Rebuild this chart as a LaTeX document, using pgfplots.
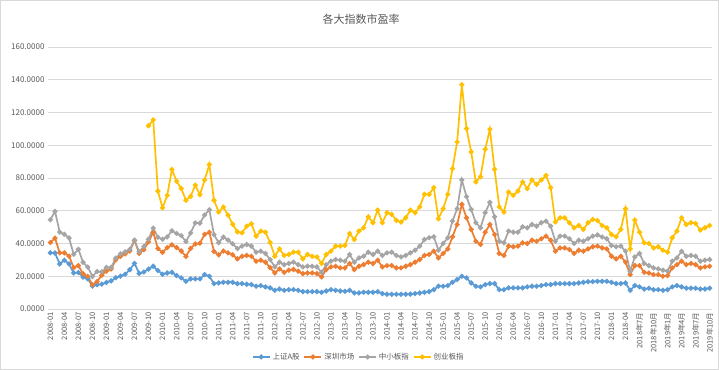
\documentclass[border=0pt]{standalone}
\usepackage{pgfplots}
\usepackage{pgfplotstable}
\pgfplotsset{compat=1.18}
\usepackage{fontspec}
\setmainfont{Noto Sans CJK SC}
\definecolor{cblue}{HTML}{5B9BD5}
\definecolor{corange}{HTML}{ED7D31}
\definecolor{cgray}{HTML}{A5A5A5}
\definecolor{cgold}{HTML}{FFC000}
\definecolor{ctext}{HTML}{595959}
\definecolor{cgrid}{HTML}{D9D9D9}
\pgfplotstableread{
i sh sz zx cy
0 34.3 40.6 54.5 nan
1 34.2 43.3 59.6 nan
2 27.5 34.3 47.0 nan
3 29.8 34.3 45.6 nan
4 27.5 32.3 43.4 nan
5 22.0 25.3 33.4 nan
6 22.3 26.5 36.4 nan
7 19.5 21.5 28.5 nan
8 18.5 19.9 25.6 nan
9 14.0 14.8 19.9 nan
10 14.8 16.8 22.9 nan
11 15.2 20.6 22.7 nan
12 16.2 23.2 25.4 nan
13 17.2 24.4 25.4 nan
14 19.1 30.0 31.1 nan
15 20.1 32.1 33.6 nan
16 21.2 33.7 34.9 nan
17 24.0 35.4 36.4 nan
18 27.9 41.8 42.0 nan
19 21.7 33.9 34.9 nan
20 22.6 36.2 38.2 nan
21 24.4 41.0 42.6 111.9
22 26.1 46.8 49.4 115.5
23 23.5 36.9 43.8 72.0
24 21.2 34.6 42.6 61.8
25 22.0 37.5 44.0 69.4
26 22.4 39.2 47.8 85.2
27 20.4 37.5 46.1 78.0
28 19.0 35.4 44.8 73.6
29 16.9 32.1 41.2 66.4
30 18.4 37.0 46.4 68.8
31 18.4 39.7 52.6 75.6
32 18.4 40.2 52.4 69.8
33 21.0 45.6 57.4 78.8
34 20.0 46.8 60.6 88.2
35 15.5 35.1 45.4 66.4
36 15.9 33.1 40.5 59.3
37 16.3 35.4 43.9 62.3
38 16.3 34.3 42.1 57.3
39 16.3 33.1 39.8 51.8
40 15.5 30.6 36.9 47.1
41 15.5 32.2 38.4 46.5
42 15.1 32.7 39.4 50.6
43 14.9 32.2 38.4 52.0
44 13.9 29.2 34.7 44.5
45 14.3 29.8 35.3 47.6
46 13.5 28.6 33.9 46.9
47 12.9 25.3 30.2 40.6
48 11.4 22.0 25.7 32.2
49 12.2 24.5 28.6 36.7
50 11.4 22.4 27.1 32.7
51 11.8 23.7 27.8 33.3
52 11.8 24.1 28.6 34.7
53 11.4 23.1 27.1 34.7
54 10.6 21.6 25.7 30.6
55 10.6 22.0 26.1 33.3
56 10.6 22.0 26.1 32.2
57 10.6 21.6 25.7 31.8
58 10.2 19.6 22.4 27.8
59 11.0 24.1 27.1 33.3
60 11.8 25.7 29.2 35.3
61 11.4 26.1 30.2 38.4
62 11.0 25.1 29.8 38.4
63 10.8 25.1 29.2 38.8
64 11.4 27.8 33.3 46.1
65 9.8 24.1 28.6 42.4
66 9.8 26.1 31.2 47.6
67 10.2 27.1 32.2 49.6
68 10.2 28.6 34.7 56.3
69 10.2 27.8 33.3 52.7
70 10.6 29.8 35.3 60.4
71 9.4 25.7 32.7 52.7
72 9.0 26.5 34.3 58.8
73 9.0 26.5 34.7 57.8
74 9.0 25.1 32.7 54.1
75 9.0 25.1 31.8 53.1
76 9.0 26.1 32.7 55.7
77 9.1 27.1 34.3 60.4
78 9.4 28.6 35.9 58.8
79 9.8 30.2 38.4 62.4
80 10.2 32.7 42.4 70.0
81 10.6 33.3 43.5 70.0
82 11.8 35.3 44.1 74.1
83 13.9 31.2 35.9 55.1
84 13.9 33.9 40.0 61.2
85 14.3 36.7 43.5 70.0
86 16.3 44.1 53.7 85.7
87 18.0 51.6 61.2 102.0
88 20.0 63.9 78.8 137.0
89 19.0 55.7 68.6 110.2
90 15.9 48.6 60.8 95.9
91 13.9 41.4 52.7 77.6
92 13.5 39.4 49.6 80.8
93 14.9 46.9 58.8 97.6
94 15.5 51.6 65.1 109.8
95 15.5 45.5 56.3 85.3
96 11.8 33.9 41.4 62.4
97 11.8 32.7 40.4 59.2
98 12.9 38.4 47.6 71.4
99 12.9 38.0 46.9 69.4
100 12.9 38.4 46.9 72.0
101 12.9 40.4 50.2 77.6
102 13.5 40.0 49.6 73.5
103 13.9 42.0 51.6 78.8
104 13.9 41.4 50.6 76.1
105 14.3 42.9 52.7 78.8
106 14.9 44.5 53.7 81.6
107 14.9 42.0 50.6 74.1
108 15.5 35.3 41.4 53.1
109 15.5 37.3 44.5 55.7
110 15.5 37.3 44.5 55.7
111 15.5 36.3 42.9 52.7
112 15.5 33.9 40.0 49.6
113 15.9 35.9 42.0 51.0
114 16.3 35.3 41.4 48.6
115 16.7 36.7 42.9 52.7
116 16.7 38.0 44.5 54.7
117 16.9 38.4 45.2 54.0
118 16.9 37.3 44.0 51.0
119 16.9 36.7 42.9 49.6
120 16.3 32.2 38.8 45.5
121 15.5 30.6 38.0 44.1
122 15.5 32.2 38.4 48.6
123 15.9 28.6 35.3 61.2
124 11.4 21.0 23.1 36.7
125 14.3 26.5 31.8 54.3
126 13.5 26.5 33.9 46.9
127 12.2 22.4 27.8 40.4
128 12.7 22.0 26.5 40.0
129 11.8 21.0 25.1 37.3
130 11.8 21.0 24.5 38.0
131 11.4 20.0 23.7 35.9
132 11.8 20.4 23.1 34.7
133 13.5 25.1 29.2 43.5
134 14.3 27.1 31.2 47.6
135 13.5 29.2 35.3 55.7
136 12.7 27.1 32.2 51.6
137 12.7 27.8 32.7 52.7
138 12.7 27.1 32.2 52.2
139 12.2 25.1 29.2 48.2
140 12.2 25.7 29.8 49.6
141 12.7 26.1 30.2 51.0
}\datatable
\begin{document}
\begin{tikzpicture}
\path[use as bounding box] (0,0) rectangle (719bp,370bp);
\fill[white] (0,0) rectangle (719bp,370bp);
\draw[cgrid, line width=1bp] (0.5bp,0.5bp) rectangle (718.5bp,369.5bp);
\node[font=\fontsize{11bp}{13bp}\selectfont, text=ctext] at (361bp,351bp) {各大指数市盈率};
\begin{axis}[
  at={(48bp,61bp)}, anchor=south west,
  scale only axis, width=664bp, height=262bp,
  xmin=-0.5, xmax=141.5, ymin=0, ymax=160,
  ytick={0,20,...,160},
  xtick={0,3,...,141},
  xticklabels={2008-01,2008-04,2008-07,2008-10,2009-01,2009-04,2009-07,2009-10,2010-01,2010-04,2010-07,2010-10,2011-01,2011-04,2011-07,2011-10,2012-01,2012-04,2012-07,2012-10,2013-01,2013-04,2013-07,2013-10,2014-01,2014-04,2014-07,2014-10,2015-01,2015-04,2015-07,2015-10,2016-01,2016-04,2016-07,2016-10,2017-01,2017-04,2017-07,2017-10,2018-01,2018-04,2018年7月,2018年10月,2019年1月,2019年4月,2019年7月,2019年10月},
  xticklabel style={rotate=90, anchor=east, font=\fontsize{7.5bp}{8bp}\selectfont, text=ctext},
  yticklabel style={font=\fontsize{8bp}{9bp}\selectfont, text=ctext},
  y tick label style={/pgf/number format/.cd, fixed, fixed zerofill, precision=4, 1000 sep={}, assume math mode=true},
  major tick length=0pt,
  ymajorgrids, grid style={cgrid, line width=0.8bp},
  axis x line*=bottom, axis y line*=left,
  x axis line style={cgrid, line width=0.8bp, -},
  y axis line style={draw=none},
  legend columns=4,
  legend style={at={(0.468,-0.183)}, anchor=center, draw=none, fill=none,
    font=\fontsize{7.5bp}{8bp}\selectfont, text=ctext,
    /tikz/every even column/.append style={column sep=2bp}},
  legend cell align=left,
  every axis plot/.append style={line width=1.7bp, mark=*, mark size=1.6bp},
]
\addplot[cblue, mark options={fill=cblue, draw=cblue}] table[x=i, y=sh] {\datatable};
\addlegendentry{上证A股}
\addplot[corange, mark options={fill=corange, draw=corange}] table[x=i, y=sz] {\datatable};
\addlegendentry{深圳市场}
\addplot[cgray, mark options={fill=cgray, draw=cgray}] table[x=i, y=zx] {\datatable};
\addlegendentry{中小板指}
\addplot[cgold, mark options={fill=cgold, draw=cgold}] table[x=i, y=cy] {\datatable};
\addlegendentry{创业板指}
\end{axis}
\end{tikzpicture}
\end{document}
